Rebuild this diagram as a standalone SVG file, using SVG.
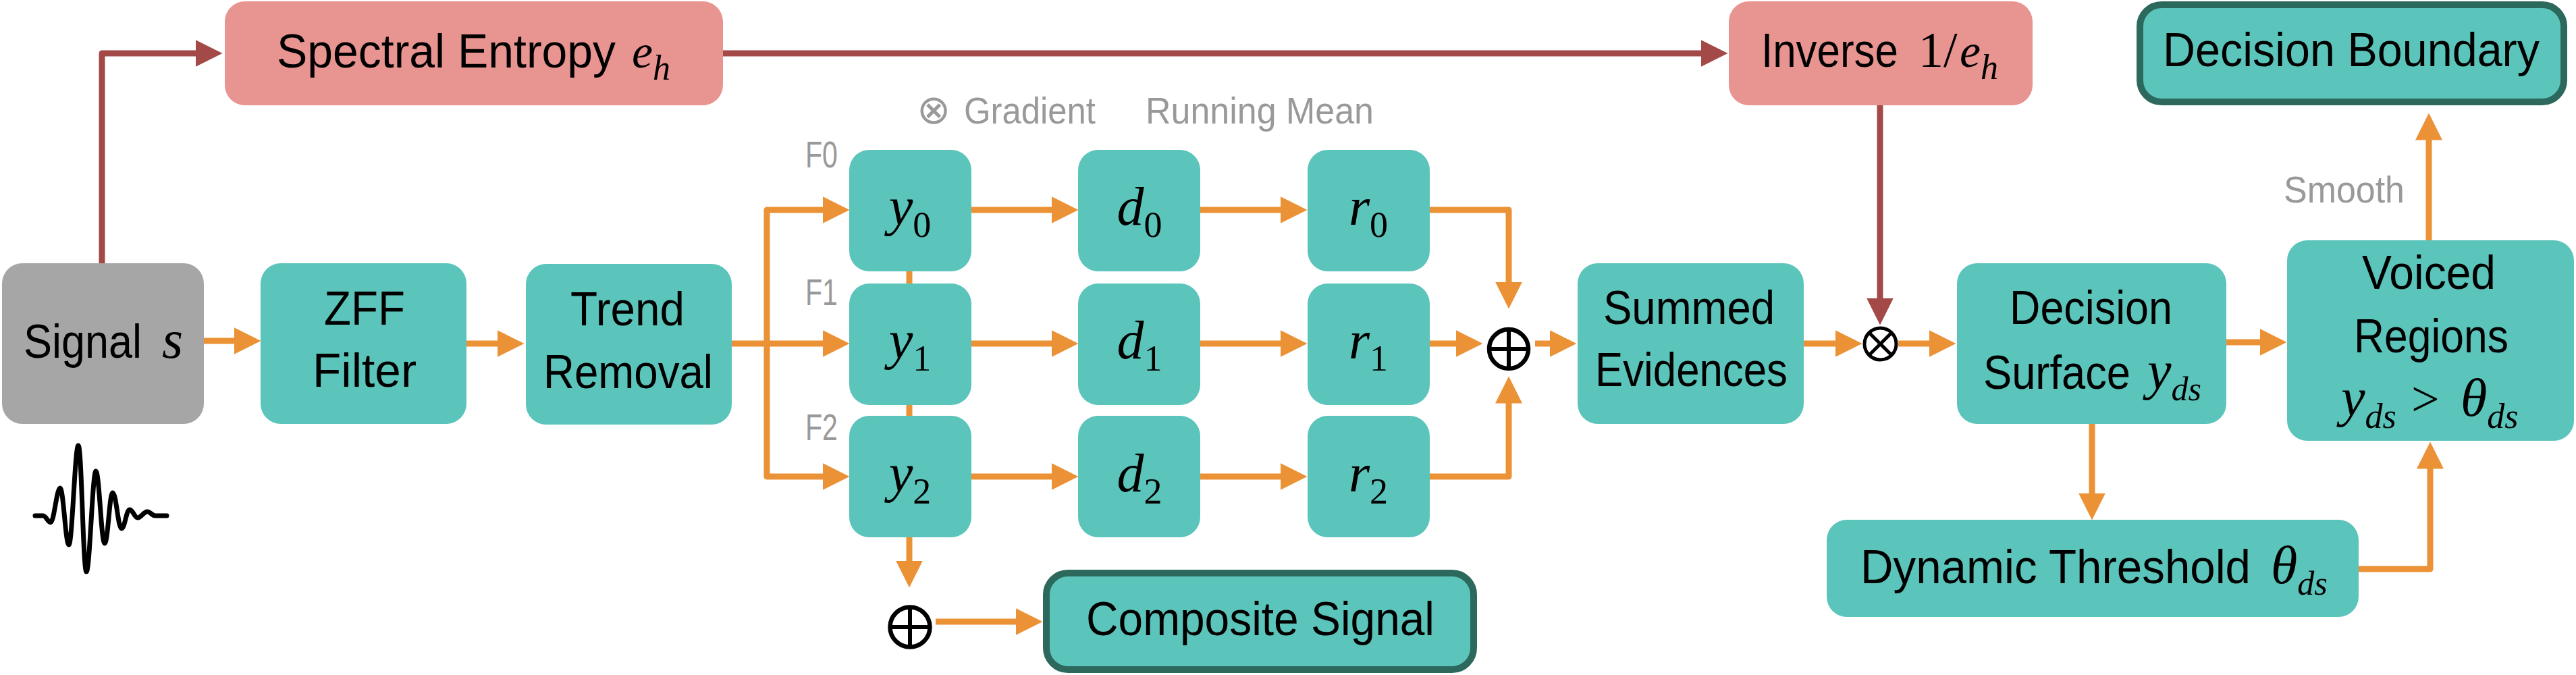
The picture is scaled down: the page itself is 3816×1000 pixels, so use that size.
<svg xmlns="http://www.w3.org/2000/svg" width="3816" height="1000" viewBox="0 0 3816 1000">
<defs>
<style>
.box{fill:#5bc4bb}
.pink{fill:#e89491}
.grey{fill:#a6a6a6}
.bb{fill:#5bc4bb;stroke:#2c685c;stroke-width:10}
.t{font-family:'Liberation Sans',Arial,sans-serif;font-size:70px;fill:#000}
.m{font-family:'Liberation Serif','Times New Roman',serif;font-style:italic;fill:#000}
.r{font-family:'Liberation Serif','Times New Roman',serif;font-style:normal}
.lbl{font-family:'Liberation Sans',Arial,sans-serif;font-size:56px;fill:#999999}
.or{fill:none;stroke:#ec9236;stroke-width:9;stroke-linejoin:round}
.rd{fill:none;stroke:#a34a48;stroke-width:9;stroke-linejoin:round}
.oa{marker-end:url(#ao)}
.ra{marker-end:url(#ar)}
.sym{fill:none;stroke:#000}
</style>
<marker id="ao" markerUnits="userSpaceOnUse" markerWidth="40" markerHeight="40" refX="0.5" refY="20" orient="auto" viewBox="0 0 40 40">
<path d="M0,0 L40,20 L0,40 z" fill="#ec9236"/>
</marker>
<marker id="ar" markerUnits="userSpaceOnUse" markerWidth="40" markerHeight="40" refX="0.5" refY="20" orient="auto" viewBox="0 0 40 40">
<path d="M0,0 L40,20 L0,40 z" fill="#a34a48"/>
</marker>
</defs>
<rect width="3816" height="1000" fill="#ffffff"/>

<g id="connectors">
<path class="rd ra" d="M151,390 V79 H290"/>
<path class="rd ra" d="M1071,79 H2520"/>
<path class="rd ra" d="M2785,156 V442"/>
<path class="or oa" d="M302,505 H347"/>
<path class="or oa" d="M691,509 H737"/>
<path class="or oa" d="M1084,509 H1219"/>
<path class="or oa" d="M1136,509 V311 H1219"/>
<path class="or oa" d="M1136,509 V706 H1219"/>
<path class="or oa" d="M1439,311 H1558"/>
<path class="or oa" d="M1778,311 H1897"/>
<path class="or oa" d="M1439,509 H1558"/>
<path class="or oa" d="M1778,509 H1897"/>
<path class="or oa" d="M1439,706 H1558"/>
<path class="or oa" d="M1778,706 H1897"/>
<path class="or" d="M1347,402 V420"/>
<path class="or" d="M1347,600 V616"/>
<path class="or oa" d="M1347,796 V831"/>
<path class="or oa" d="M1386,921 H1505"/>
<path class="or oa" d="M2118,311 H2235 V418"/>
<path class="or oa" d="M2118,509 H2157"/>
<path class="or oa" d="M2118,706 H2235 V597"/>
<path class="or oa" d="M2274,509 H2296"/>
<path class="or oa" d="M2672,509 H2719"/>
<path class="or oa" d="M2812,509 H2858"/>
<path class="or oa" d="M3298,507 H3348"/>
<path class="or oa" d="M3099,628 V731"/>
<path class="or oa" d="M3494,843 H3600 V694"/>
<path class="or oa" d="M3598,356 V207"/>
</g>

<g id="signal">
<rect class="grey" x="3" y="390" width="299" height="238" rx="30"/>
<text class="t" y="530"><tspan x="35" textLength="175" lengthAdjust="spacingAndGlyphs">Signal</tspan> <tspan class="m" x="240" font-size="80">s</tspan></text>
</g>

<g id="waveform">
<path d="M52,764 L64,764 C68,764 71,774 75,774 C80,774 84,723 89,723 C94,723 97,807 102,807 C107,807 111,660 116,660 C121,660 123,847 128,847 C133,847 137,698 142,698 C147,698 150,805 155,805 C160,805 162,730 167,730 C172,730 175,783 180,783 C185,783 187,755 192,755 C197,755 199,767 204,767 C209,767 213,758 218,758 C223,758 225,764 230,764 L247,764" fill="none" stroke="#000" stroke-width="7" stroke-linecap="round" stroke-linejoin="round"/>
</g>

<g id="zff">
<rect class="box" x="386" y="390" width="305" height="238" rx="30"/>
<text class="t" y="481" x="480" textLength="120" lengthAdjust="spacingAndGlyphs">ZFF</text>
<text class="t" y="573" x="463" textLength="154" lengthAdjust="spacingAndGlyphs">Filter</text>
</g>

<g id="trend">
<rect class="box" x="779" y="391" width="305" height="238" rx="30"/>
<text class="t" y="482" x="845" textLength="169" lengthAdjust="spacingAndGlyphs">Trend</text>
<text class="t" y="575" x="805" textLength="251" lengthAdjust="spacingAndGlyphs">Removal</text>
</g>

<g id="entropy">
<rect class="pink" x="333" y="2" width="738" height="154" rx="30"/>
<text class="t" y="100"><tspan x="410" textLength="502" lengthAdjust="spacingAndGlyphs">Spectral Entropy</tspan> <tspan class="m" x="936" font-size="70">e</tspan><tspan class="m" font-size="52" dy="18">h</tspan></text>
</g>

<g id="inverse">
<rect class="pink" x="2561" y="2" width="450" height="154" rx="30"/>
<text class="t" y="99"><tspan x="2609" textLength="203" lengthAdjust="spacingAndGlyphs">Inverse</tspan> <tspan class="r" x="2842" font-size="74">1/</tspan><tspan class="m" x="2903" font-size="70">e</tspan><tspan class="m" font-size="52" dy="18">h</tspan></text>
</g>

<g id="labels">
<text class="lbl" y="183"><tspan x="1358" font-family="'DejaVu Sans',sans-serif" font-size="60">⊗</tspan> <tspan x="1428" textLength="195" lengthAdjust="spacingAndGlyphs">Gradient</tspan></text>
<text class="lbl" x="1697" y="183" textLength="338" lengthAdjust="spacingAndGlyphs">Running Mean</text>
<text class="lbl" x="1193" y="248" font-size="50" textLength="48" lengthAdjust="spacingAndGlyphs">F0</text>
<text class="lbl" x="1193" y="452" font-size="50" textLength="48" lengthAdjust="spacingAndGlyphs">F1</text>
<text class="lbl" x="1193" y="652" font-size="50" textLength="48" lengthAdjust="spacingAndGlyphs">F2</text>
<text class="lbl" x="3383" y="300" textLength="179" lengthAdjust="spacingAndGlyphs">Smooth</text>
</g>

<g id="y0"><rect class="box" x="1258" y="222" width="181" height="180" rx="30"/><text class="m" font-size="80" text-anchor="middle" x="1348" y="333">y<tspan class="r" font-size="54" dy="18">0</tspan></text></g>
<g id="d0"><rect class="box" x="1597" y="222" width="181" height="180" rx="30"/><text class="m" font-size="80" text-anchor="middle" x="1688" y="333">d<tspan class="r" font-size="54" dy="18">0</tspan></text></g>
<g id="r0"><rect class="box" x="1937" y="222" width="181" height="180" rx="30"/><text class="m" font-size="80" text-anchor="middle" x="2027" y="333">r<tspan class="r" font-size="54" dy="18">0</tspan></text></g>
<g id="y1"><rect class="box" x="1258" y="420" width="181" height="180" rx="30"/><text class="m" font-size="80" text-anchor="middle" x="1348" y="531">y<tspan class="r" font-size="54" dy="18">1</tspan></text></g>
<g id="d1"><rect class="box" x="1597" y="420" width="181" height="180" rx="30"/><text class="m" font-size="80" text-anchor="middle" x="1688" y="531">d<tspan class="r" font-size="54" dy="18">1</tspan></text></g>
<g id="r1"><rect class="box" x="1937" y="420" width="181" height="180" rx="30"/><text class="m" font-size="80" text-anchor="middle" x="2027" y="531">r<tspan class="r" font-size="54" dy="18">1</tspan></text></g>
<g id="y2"><rect class="box" x="1258" y="616" width="181" height="180" rx="30"/><text class="m" font-size="80" text-anchor="middle" x="1348" y="728">y<tspan class="r" font-size="54" dy="18">2</tspan></text></g>
<g id="d2"><rect class="box" x="1597" y="616" width="181" height="180" rx="30"/><text class="m" font-size="80" text-anchor="middle" x="1688" y="728">d<tspan class="r" font-size="54" dy="18">2</tspan></text></g>
<g id="r2"><rect class="box" x="1937" y="616" width="181" height="180" rx="30"/><text class="m" font-size="80" text-anchor="middle" x="2027" y="728">r<tspan class="r" font-size="54" dy="18">2</tspan></text></g>

<g id="sum-rows">
<circle class="sym" cx="2235" cy="517" r="29" stroke-width="6.5"/>
<path class="sym" stroke-width="6" d="M2206,517 H2264 M2235,488 V546"/>
</g>

<g id="sum-composite">
<circle class="sym" cx="1348" cy="929" r="29.5" stroke-width="6.5"/>
<path class="sym" stroke-width="6" d="M1318.5,929 H1377.5 M1348,899.5 V958.5"/>
</g>

<g id="composite">
<rect class="bb" x="1550" y="849" width="633" height="143" rx="32"/>
<text class="t" x="1609" y="941" textLength="516" lengthAdjust="spacingAndGlyphs">Composite Signal</text>
</g>

<g id="summed">
<rect class="box" x="2337" y="390" width="335" height="238" rx="30"/>
<text class="t" x="2375" y="480" textLength="254" lengthAdjust="spacingAndGlyphs">Summed</text>
<text class="t" x="2363" y="572" textLength="285" lengthAdjust="spacingAndGlyphs">Evidences</text>
</g>

<g id="product">
<circle class="sym" cx="2785.5" cy="509.5" r="23.5" stroke-width="5"/>
<path class="sym" stroke-width="5" d="M2768.9,492.9 L2802.1,526.1 M2802.1,492.9 L2768.9,526.1"/>
</g>

<g id="surface">
<rect class="box" x="2899" y="390" width="399" height="238" rx="30"/>
<text class="t" x="2977" y="480" textLength="241" lengthAdjust="spacingAndGlyphs">Decision</text>
<text class="t" y="576"><tspan x="2938" textLength="218" lengthAdjust="spacingAndGlyphs">Surface</tspan> <tspan class="m" x="3181" font-size="80">y</tspan><tspan class="m" font-size="50" dy="17">ds</tspan></text>
</g>

<g id="voiced">
<rect class="box" x="3388" y="356" width="425" height="297" rx="30"/>
<text class="t" x="3499" y="428" textLength="198" lengthAdjust="spacingAndGlyphs">Voiced</text>
<text class="t" x="3487" y="522" textLength="229" lengthAdjust="spacingAndGlyphs">Regions</text>
<text class="m" y="616" font-size="80"><tspan x="3468">y</tspan><tspan font-size="52" dy="18">ds</tspan> <tspan class="r" x="3572" dy="-18" font-size="74">&gt;</tspan> <tspan x="3645">θ</tspan><tspan font-size="52" dy="18">ds</tspan></text>
</g>

<g id="threshold">
<rect class="box" x="2706" y="770" width="788" height="144" rx="30"/>
<text class="t" y="864"><tspan x="2756" textLength="578" lengthAdjust="spacingAndGlyphs">Dynamic Threshold</tspan> <tspan class="m" x="3364" font-size="80">θ</tspan><tspan class="m" font-size="50" dy="17">ds</tspan></text>
</g>

<g id="boundary">
<rect class="bb" x="3170" y="7" width="628" height="144" rx="32"/>
<text class="t" x="3204" y="98" textLength="558" lengthAdjust="spacingAndGlyphs">Decision Boundary</text>
</g>
</svg>
